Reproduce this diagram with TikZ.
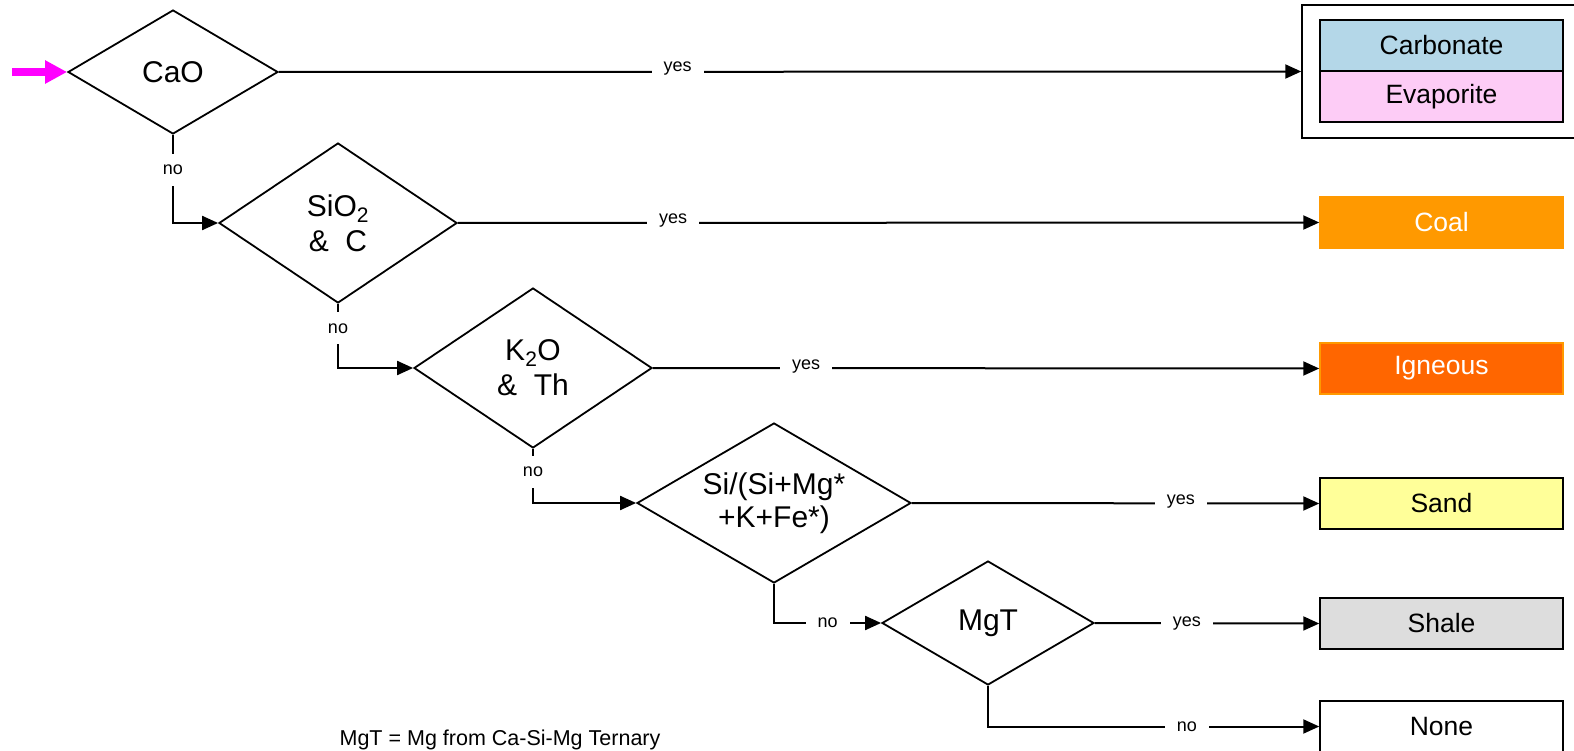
\documentclass[tikz,border=0pt]{standalone}
\usepackage{fontspec}
\setmainfont{Liberation Sans}
\usepackage{tikz}
\usetikzlibrary{
  shapes.geometric,      % Diamond test boxes
  positioning
}
\usetikzlibrary{arrows.meta}

\definecolor{startpink}{HTML}{FF00FF}
\definecolor{carbblue}{HTML}{B4D7E8}
\definecolor{evappink}{HTML}{FDCCF6}
\definecolor{coalorange}{HTML}{FF9900}
\definecolor{ignorange}{HTML}{FF6600}
\definecolor{sandyellow}{HTML}{FFFF99}
\definecolor{shalegray}{HTML}{DDDDDD}

\begin{document}
\begin{tikzpicture}[x=1pt, y=-1pt,
    test/.style={diamond, draw, line width=1.8pt, inner sep=0pt, aspect=1.7,
      align=center, font=\fontsize{30}{33}\selectfont},
    rock/.style={rectangle, draw, line width=1.5pt, inner sep=0pt,
      minimum width=243pt, minimum height=51pt, font=\fontsize{26.5}{30}\selectfont},
    lbl/.style={fill=white, inner xsep=12pt, inner ysep=11pt,
      font=\fontsize{18}{20}\selectfont},
    flow/.style={line width=2pt, -{Triangle[length=16pt, width=14pt]}}]
        % Frame
        \useasboundingbox (0,0) rectangle (1574,751);
        \clip (0,0) rectangle (1574,751);

        % Tests
        \node[test, minimum width=210pt, minimum height=124pt] (cao) at (173,72) {CaO};
        \node[test, minimum width=238pt, minimum height=160pt] (sic) at (338,223) {SiO\textsubscript{2}\\[2pt]\&~ C};
        \node[test, minimum width=238pt, minimum height=160pt] (kth) at (533,368) {K\textsubscript{2}O\\[2pt]\&~ Th};
        \node[test, minimum width=274pt, minimum height=160pt] (ratio) at (774,503) {Si/(Si+Mg*\\+K+Fe*)};
        \node[test, minimum width=212pt, minimum height=124pt] (mgt) at (988,623) {MgT};

        % Rock types
        \node[rock, minimum width=283pt, minimum height=133pt] (group) at (1443.5,71.5) {};
        \node[rock, fill=carbblue] (carb) at (1441.5,45.5) {Carbonate};
        \node[rock, fill=evappink] (evap) at (1441.5,96.5) {Evaporite};
        \node[rock, draw=coalorange, fill=coalorange, text=white] (coal) at (1441.5,222.5) {Coal};
        \node[rock, draw=coalorange, fill=ignorange, text=white] (ign) at (1441.5,368.5) {Igneous};
        \node[rock, fill=sandyellow] (sand) at (1441.5,503.5) {Sand};
        \node[rock, fill=shalegray] (shale) at (1441.5,623.5) {Shale};
        \node[rock, fill=white] (none) at (1441.5,726.5) {None};

        % Entry
        \coordinate (start) at (12,72);
        \draw[startpink, line width=7.7pt, -{Triangle[length=22pt, width=22pt]}] (start) -- (cao.west);

        % Yes branches
        \draw[flow] (cao.east) -- node[lbl, pos=0.39, yshift=3pt] {yes} (group.west);
        \draw[flow] (sic.east) -- node[lbl, pos=0.25, yshift=2pt] {yes} (coal.west);
        \draw[flow] (kth.east) -- node[lbl, pos=0.23, yshift=2pt] {yes} (ign.west);
        \draw[flow] (ratio.east) -- node[lbl, pos=0.66, yshift=2pt] {yes} (sand.west);
        \draw[flow] (mgt.east) -- node[lbl, pos=0.41] {yes} (shale.west);

        % No branches
        \draw[flow] (cao.south) |- node[lbl, pos=0.2] {no} (sic.west);
        \draw[flow] (sic.south) |- node[lbl, pos=0.19] {no} (kth.west);
        \draw[flow] (kth.south) |- node[lbl, pos=0.21] {no} (ratio.west);
        \draw[flow] (ratio.south) |- node[lbl, pos=0.75] {no} (mgt.west);
        \draw[flow] (mgt.south) |- node[lbl, pos=0.8] {no} (none.west);

        % Footnote
        \node[font=\fontsize{21.5}{24}\selectfont] (note) at (500,740) {MgT = Mg from Ca-Si-Mg Ternary};
\end{tikzpicture}
\end{document}
